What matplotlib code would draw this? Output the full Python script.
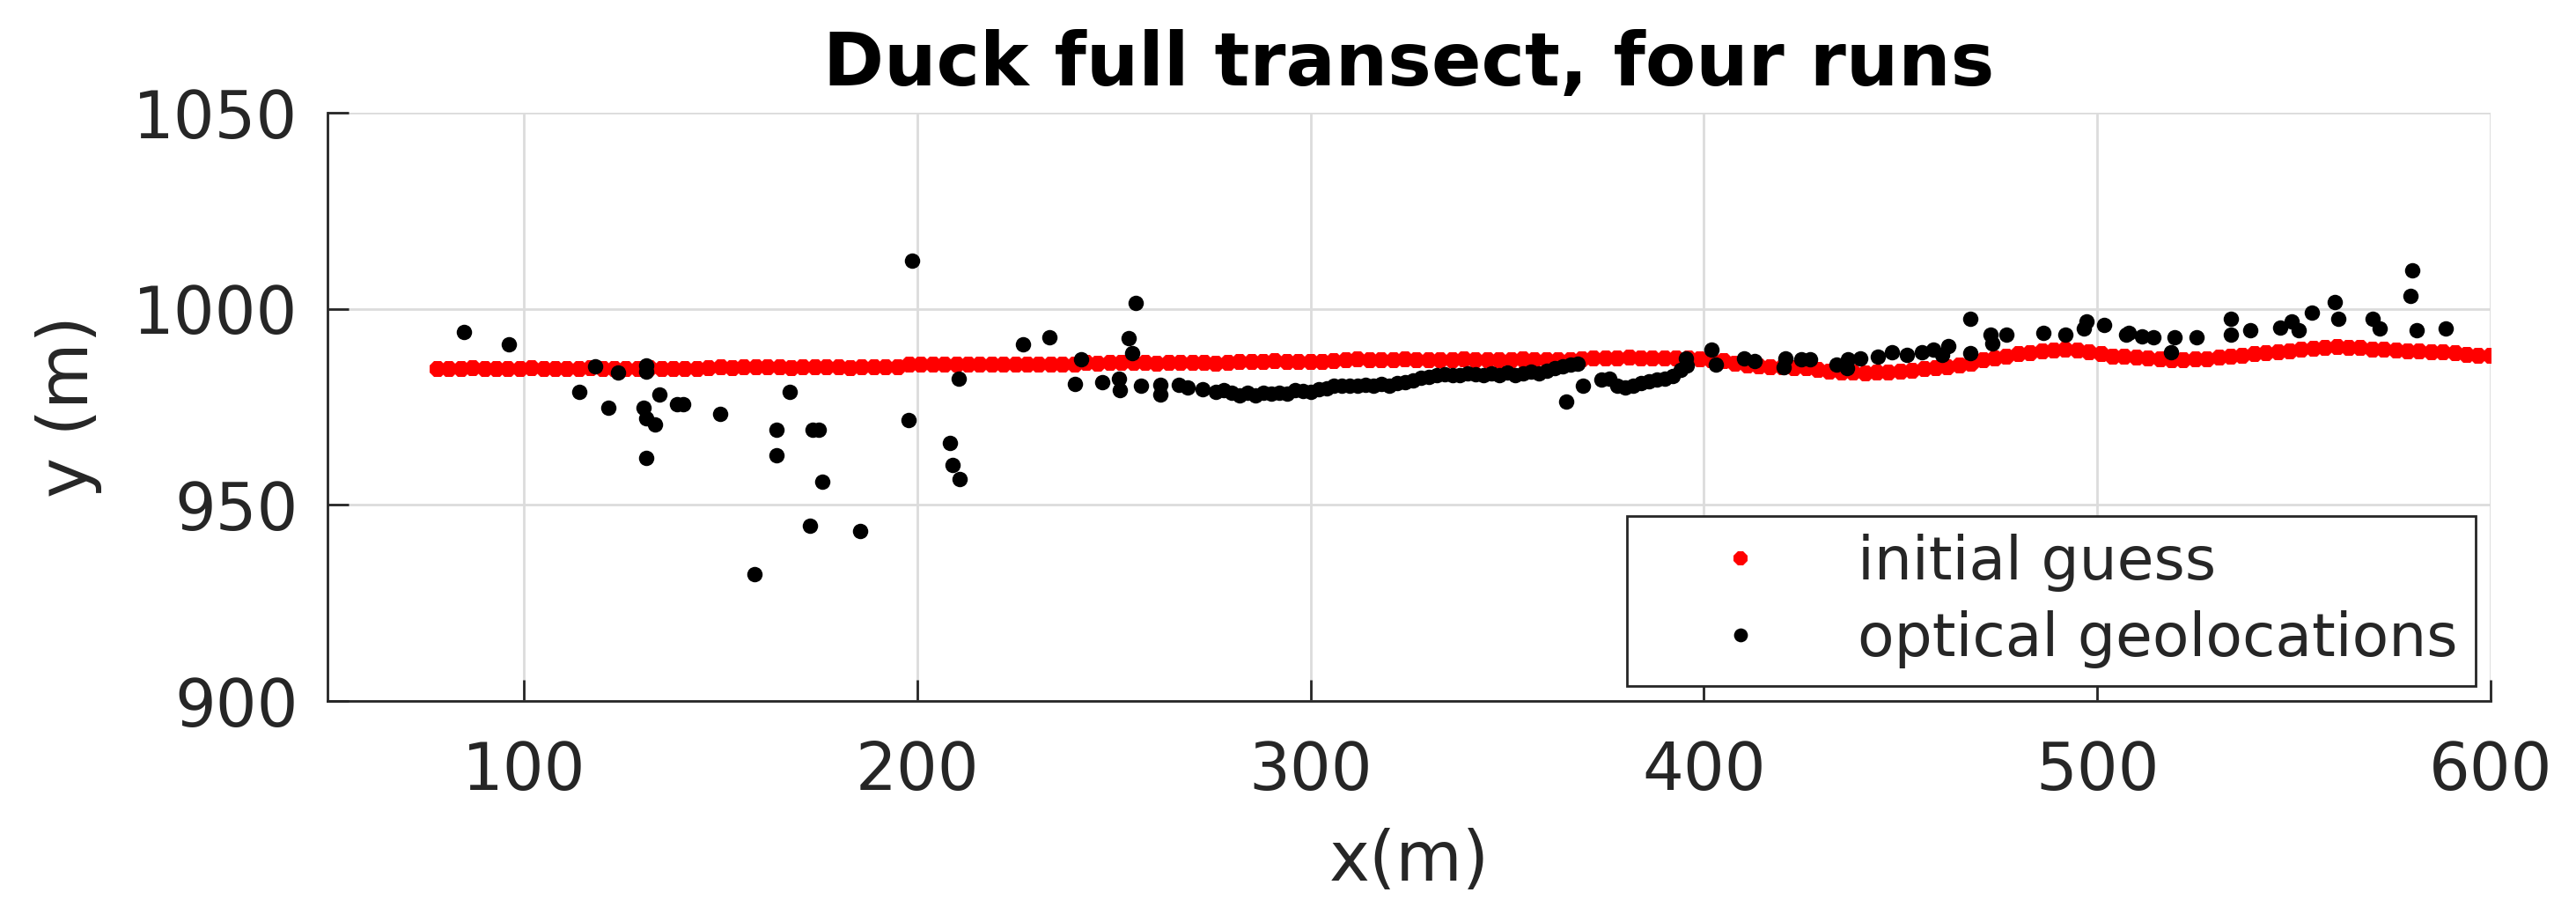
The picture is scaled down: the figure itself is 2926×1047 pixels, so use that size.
import numpy as np
import matplotlib
matplotlib.use('Agg')
import matplotlib.pyplot as plt

plt.rcParams['font.family'] = ['DejaVu Sans']

TITLE = 'Duck full transect, four runs'
X_LABEL = 'x(m)'
Y_LABEL = 'y (m)'
LEGEND_LABELS = ['initial guess', 'optical geolocations']

X_TICKS = [100, 200, 300, 400, 500, 600]
Y_TICKS = [900, 950, 1000, 1050]

# initial guess, sampled every 3 m from 78 to 600
guess_x = np.arange(78, 601, 3)
guess_y = [
    984.7, 984.6, 984.7, 984.8, 984.7, 984.6, 984.7, 984.7, 984.8, 984.7, 984.6, 984.7,
    984.7, 984.8, 984.7, 984.7, 984.6, 984.7, 984.8, 984.7, 984.7, 984.6, 984.7, 984.8,
    985.1, 985.0, 985.1, 985.2, 985.1, 985.1, 985.0, 985.1, 985.2, 985.1, 985.1, 985.0,
    985.1, 985.2, 985.1, 985.1,
    985.8, 985.7, 985.8, 985.9, 985.8, 985.8, 985.7, 985.8, 985.9, 985.8, 985.8, 985.7,
    985.8, 985.9, 985.8,
    986.2, 986.1, 986.2, 986.3, 986.2, 986.2, 986.1, 986.2, 986.3, 986.2, 986.2, 986.1,
    986.2,
    986.5, 986.4, 986.5, 986.6, 986.5, 986.5, 986.4, 986.5, 986.6,
    987.0, 987.1, 987.0, 986.9, 987.0, 987.1, 987.0, 987.0, 986.9, 987.0, 987.1, 987.0,
    987.0, 986.9, 987.0, 987.1, 987.0, 987.0, 986.9, 987.0, 987.1,
    987.4, 987.3, 987.4, 987.5, 987.4, 987.4, 987.3, 987.4, 987.4,
    987.2, 987.0, 986.6, 986.0, 985.6, 985.3, 985.2, 985.1, 985.0, 984.8, 984.4, 984.0,
    983.8, 983.7, 983.6, 983.7, 983.8, 984.0, 984.3, 984.6, 984.9, 985.1, 985.5, 986.1,
    986.8, 987.4, 987.9, 988.4, 988.8, 989.2, 989.4, 989.5, 989.4, 989.0, 988.4, 987.9,
    987.7, 987.5, 987.3, 987.1, 987.0, 987.0, 987.1, 987.2, 987.5, 987.8, 988.1, 988.4,
    988.6, 988.9, 989.2, 989.6, 989.9, 990.1, 990.2, 990.1, 990.0, 989.7, 989.5, 989.3,
    989.2, 989.1, 989.0, 988.9, 988.6, 988.3, 988.1, 988.0,
]

# optical geolocations
optical_x = [
    84.8, 96.2, 114.0, 118.1, 121.4, 123.8, 130.3, 131.0, 131.0, 131.0, 131.0, 133.3,
    134.4, 138.9, 140.5, 149.9, 158.6, 164.3, 164.3, 167.5,
    172.6, 173.3, 175.0, 175.8, 185.5, 197.8, 198.6, 208.3, 209.0, 210.5, 210.7, 226.9,
    233.5, 240.0, 241.6, 247.1, 251.2, 251.6, 253.8, 254.7, 255.5, 256.8, 261.7, 261.9,
    266.5, 268.7, 272.5, 275.8, 278.0,
    280, 282, 284, 286, 288, 290, 292, 294, 296, 298, 300, 302, 304, 306, 308, 310,
    312, 314, 316, 318, 320, 322, 324, 326, 328, 330, 332, 334, 336, 338, 340, 342,
    344, 346, 348, 350, 352, 354, 356, 358, 360, 362, 364, 365.0, 366, 368, 369.2,
    374, 376, 378, 380, 382, 384, 386, 388, 390, 392, 394, 395.5,
    395.7, 402.0, 403.1, 410.2, 412.8, 420.3, 420.7, 424.8, 427.0, 433.7, 436.3, 436.7,
    439.7, 444.2, 447.9, 451.7, 455.4, 458.4, 460.6, 462.1, 467.7, 467.7, 472.9, 473.3,
    477.0, 486.4, 492.0, 496.5, 497.2, 501.7, 507.3,
    508.0, 511.4, 514.4, 518.8, 519.6, 525.2, 534.1, 534.1, 539.0, 546.5, 549.4, 551.3,
    554.7, 560.3, 561.4, 570.0, 571.8, 579.7, 580.0, 581.2, 588.6,
]
optical_y = [
    994.2, 991.0, 978.8, 985.3, 974.7, 983.7, 974.7, 985.6, 983.9, 972.1, 961.9, 970.6,
    978.1, 975.6, 975.6, 973.2, 932.4, 969.1, 962.6, 978.8,
    944.8, 969.1, 969.1, 956.0, 943.3, 971.6, 1012.3, 965.9, 960.3, 982.2, 956.7, 991.0,
    992.7, 980.8, 987.1, 981.2, 982.2, 979.2, 992.5, 988.6, 1001.5, 980.5, 980.7, 978.1,
    980.7, 980.0, 979.6, 978.8, 979.2,
    978.5, 978.0, 978.5, 978.0, 978.6, 978.4, 978.7, 978.3, 979.2, 979.0, 978.8, 979.5,
    979.7, 980.3, 980.4, 980.5, 980.3, 980.6, 980.5, 980.8, 980.5, 981.1, 981.2, 981.8,
    982.5, 982.6, 983.1, 983.4, 983.2, 983.0, 983.5, 983.3, 983.0, 983.6, 983.2, 983.8,
    983.0, 983.5, 983.9, 983.6, 984.2, 984.8, 985.4, 976.4, 985.8, 986.0, 980.3,
    982.0, 982.3, 980.5, 980.0, 980.3, 981.0, 981.5, 982.0, 982.3, 982.9, 984.5, 987.4,
    985.6, 989.7, 985.9, 987.4, 986.7, 985.2, 987.4, 987.1, 987.1, 985.9, 984.8, 987.1,
    987.4, 987.8, 988.9, 988.2, 988.9, 989.7, 988.2, 990.4, 988.6, 997.5, 993.4, 991.2,
    993.4, 993.8, 993.4, 994.9, 996.8, 996.0, 993.4,
    993.8, 993.0, 992.7, 988.9, 992.7, 992.7, 997.5, 993.4, 994.5, 995.3, 996.8, 994.5,
    999.0, 1001.7, 997.5, 997.5, 994.9, 1003.3, 1009.9, 994.5, 995.1,
]

dark = '#262626'

fig = plt.figure(figsize=(29.26, 10.47), dpi=100)
ax = fig.add_axes([0.1271, 0.2397, 0.8397, 0.638])

ax.plot(guess_x, guess_y, '8', color='#ff0000', markersize=14, markeredgewidth=0,
        label=LEGEND_LABELS[0])
ax.plot(optical_x, optical_y, 'o', color='black', markersize=12.6, markeredgewidth=0,
        label=LEGEND_LABELS[1])

ax.set_xlim(50, 600)
ax.set_ylim(900, 1050)
ax.set_xticks(X_TICKS)
ax.set_yticks(Y_TICKS)

ax.grid(True, color='#dcdcdc', linewidth=2)
ax.set_axisbelow(True)
for side in ['top', 'right']:
    ax.spines[side].set_visible(False)
for side in ['left', 'bottom']:
    ax.spines[side].set_color(dark)
    ax.spines[side].set_linewidth(2)

ax.tick_params(axis='both', direction='in', length=17, width=2, color=dark,
               labelcolor=dark, labelsize=53)
ax.tick_params(axis='x', pad=32)
ax.tick_params(axis='y', pad=24)

ax.set_title(TITLE, fontsize=60, fontweight='bold', pad=22)
ax.set_xlabel(X_LABEL, fontsize=56, color=dark)
ax.set_ylabel(Y_LABEL, fontsize=56, color=dark)
ax.xaxis.set_label_coords(0.5, -0.215)
ax.yaxis.set_label_coords(-0.104, 0.5)

leg = ax.legend(loc='lower right', fontsize=49, frameon=True, fancybox=False,
                framealpha=1, edgecolor=dark, borderpad=0.3, handlelength=3.2,
                handletextpad=0.35, labelspacing=0.3, borderaxespad=0.25,
                markerscale=0.9)
leg.get_frame().set_linewidth(2)
for text in leg.get_texts():
    text.set_color(dark)

fig.savefig('out.png', dpi=100)
